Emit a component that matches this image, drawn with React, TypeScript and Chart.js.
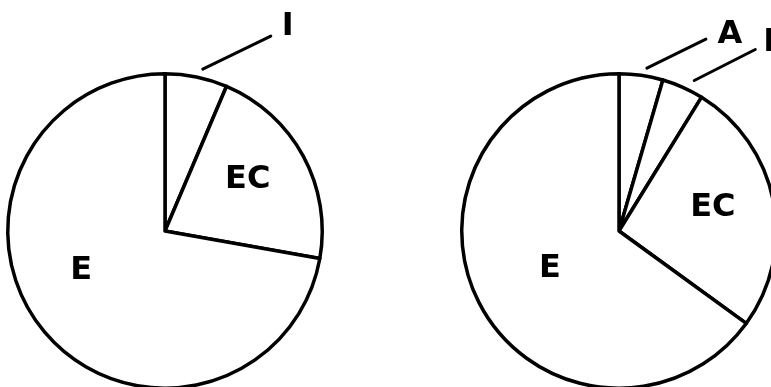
import React, { useEffect, useRef } from "react";
import { Chart, registerables } from "chart.js";

Chart.register(...registerables);

// ---- data ----
const leftLabels = ["I", "EC", "E"];
const leftValues = [6.4, 21.4, 72.2];
const rightLabels = ["A", "I", "EC", "E"];
const rightValues = [4.5, 4.3, 26.2, 65.0];

type Place =
  | { kind: "inner"; angle: number; dist: number }
  | { kind: "callout"; frac: number; gap: number; dx: number; dy: number; tx: number; ty: number };

const labelPlugin = {
  id: "pieLabels",
  afterDatasetsDraw(chart: any, _args: any, opts: any) {
    const meta = chart.getDatasetMeta(0);
    const labels = chart.data.labels || [];
    const ctx = chart.ctx as CanvasRenderingContext2D;
    ctx.save();
    ctx.fillStyle = opts.color;
    ctx.strokeStyle = opts.color;
    ctx.font = opts.font;
    ctx.textAlign = "center";
    ctx.textBaseline = "alphabetic";
    meta.data.forEach((arc: any, i: number) => {
      const p: Place | undefined = opts.places[i];
      if (!p) return;
      const { x, y, outerRadius, startAngle, endAngle } = arc.getProps(
        ["x", "y", "outerRadius", "startAngle", "endAngle"],
        true
      );
      let lx: number, ly: number;
      if (p.kind === "inner") {
        const a = (p.angle * Math.PI) / 180 - Math.PI / 2;
        lx = x + Math.cos(a) * outerRadius * p.dist;
        ly = y + Math.sin(a) * outerRadius * p.dist;
      } else {
        const a = startAngle + (endAngle - startAngle) * p.frac;
        const r = outerRadius + p.gap;
        const sx = x + Math.cos(a) * r;
        const sy = y + Math.sin(a) * r;
        const ex = sx + p.dx;
        const ey = sy + p.dy;
        ctx.lineWidth = opts.lineWidth;
        ctx.lineCap = "round";
        ctx.beginPath();
        ctx.moveTo(sx, sy);
        ctx.lineTo(ex, ey);
        ctx.stroke();
        lx = ex + p.tx;
        ly = ey + p.ty;
      }
      ctx.fillText(String(labels[i]), lx, ly + opts.capHeight / 2);
    });
    ctx.restore();
  },
};

const CANVAS_W = 800;
const CANVAS_H = 420;

function makeConfig(labels: string[], values: number[], padding: any, places: Place[]): any {
  return {
    type: "pie",
    data: {
      labels,
      datasets: [
        {
          data: values,
          backgroundColor: "#ffffff",
          borderColor: "#000000",
          borderWidth: 3.5,
          hoverBorderWidth: 3.5,
          borderJoinStyle: "round",
          hoverBackgroundColor: "#ffffff",
          hoverBorderColor: "#000000",
        },
      ],
    },
    options: {
      responsive: false,
      animation: false,
      devicePixelRatio: 1,
      events: [],
      layout: { padding },
      plugins: {
        legend: { display: false },
        tooltip: { enabled: false },
        title: { display: false },
        pieLabels: {
          color: "#000000",
          font: "bold 32px 'DejaVu Sans'",
          capHeight: 23,
          lineWidth: 3,
          places,
        },
      },
    },
    plugins: [labelPlugin],
  };
}

const leftPlaces: Place[] = [
  { kind: "callout", frac: 0.57, gap: 9, dx: 68, dy: -33, tx: 17, ty: -13 },
  { kind: "inner", angle: 56.6, dist: 0.63 },
  { kind: "inner", angle: 246.6, dist: 0.58 },
];

const rightPlaces: Place[] = [
  { kind: "callout", frac: 0.6, gap: 8, dx: 59, dy: -29, tx: 24, ty: -8 },
  { kind: "callout", frac: 0.67, gap: 11, dx: 61, dy: -31, tx: 14, ty: -10 },
  { kind: "inner", angle: 74.4, dist: 0.62 },
  { kind: "inner", angle: 243.8, dist: 0.49 },
];

export default function App() {
  const leftRef = useRef<HTMLCanvasElement>(null);
  const rightRef = useRef<HTMLCanvasElement>(null);

  useEffect(() => {
    const charts: Chart[] = [];
    if (leftRef.current) {
      charts.push(
        new Chart(
          leftRef.current,
          makeConfig(leftLabels, leftValues, { left: 6, top: 72, right: 476, bottom: 30 }, leftPlaces)
        )
      );
    }
    if (rightRef.current) {
      charts.push(
        new Chart(
          rightRef.current,
          makeConfig(rightLabels, rightValues, { left: 460, top: 72, right: 22, bottom: 30 }, rightPlaces)
        )
      );
    }
    return () => charts.forEach((c) => c.destroy());
  }, []);

  const canvasStyle: React.CSSProperties = {
    position: "absolute",
    left: 0,
    top: 0,
    width: CANVAS_W,
    height: CANVAS_H,
  };

  return (
    <div
      style={{
        position: "fixed",
        left: 0,
        top: 0,
        width: 771,
        height: 387,
        overflow: "hidden",
        background: "#ffffff",
      }}
    >
      <canvas ref={leftRef} width={CANVAS_W} height={CANVAS_H} style={canvasStyle} />
      <canvas ref={rightRef} width={CANVAS_W} height={CANVAS_H} style={canvasStyle} />
    </div>
  );
}
